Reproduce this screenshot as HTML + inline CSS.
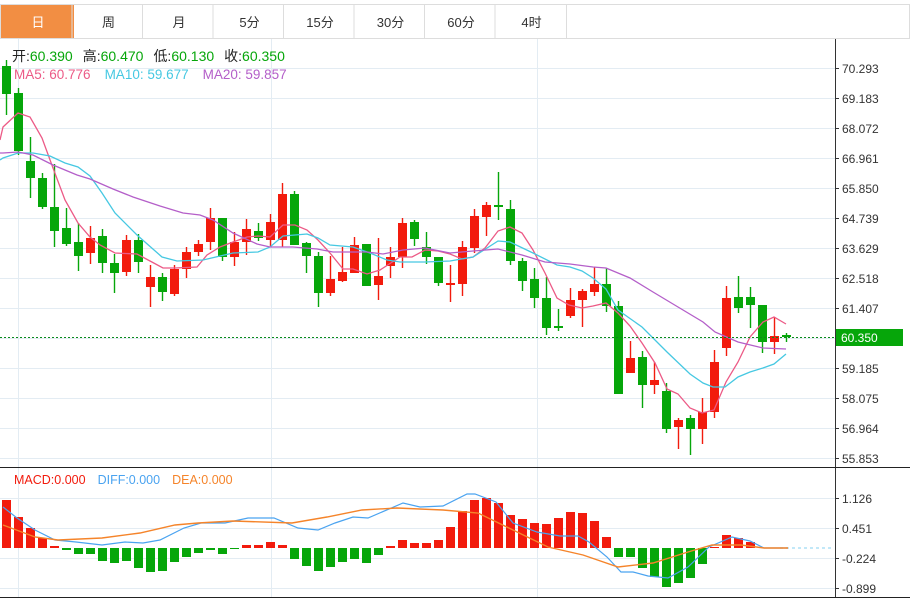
<!DOCTYPE html>
<html><head><meta charset="utf-8"><style>
body{margin:0;background:#fff;width:910px;height:599px;overflow:hidden;font-family:"Liberation Sans","Noto Sans CJK SC",sans-serif}
svg{position:absolute;left:0;top:0}
</style></head><body>
<svg id="s" width="910" height="599" xmlns="http://www.w3.org/2000/svg" font-family="Liberation Sans, Noto Sans CJK SC, sans-serif"></svg>
<script>
var s=document.getElementById('s'),h='';
h+='<rect x="0.5" y="4.5" width="909" height="34" fill="#fff" stroke="#ddd"/>';
h+='<rect x="1" y="5" width="73" height="33" fill="#f28e43"/>';
var tabs=['日','周','月','5分','15分','30分','60分','4时'];
for(var i=0;i<8;i++){var x=1+i*70.5;if(i>0)h+='<line x1="'+(x+0.5)+'" y1="5" x2="'+(x+0.5)+'" y2="38" stroke="#ddd"/>';
h+='<text x="'+(x+37)+'" y="27" font-size="13" text-anchor="middle" fill="'+(i==0?'#fff':'#333')+'">'+tabs[i]+'</text>';}
h+='<line x1="566.5" y1="5" x2="566.5" y2="38" stroke="#ddd"/>';
[68,98,128,158,188,218,248,278,308,338,368,398,428,458].forEach(function(y){h+='<line x1="0" y1="'+(y+.5)+'" x2="835" y2="'+(y+.5)+'" stroke="#e3ecf3"/>';});
[18,271,537].forEach(function(x){h+='<line x1="'+(x+.5)+'" y1="39" x2="'+(x+.5)+'" y2="597" stroke="#e3ecf3"/>';});
[498,528,558,588].forEach(function(y){h+='<line x1="0" y1="'+(y+.5)+'" x2="835" y2="'+(y+.5)+'" stroke="#e3ecf3"/>';});
h+='<line x1="835.5" y1="39" x2="835.5" y2="597" stroke="#333"/>';
h+='<line x1="0" y1="467.5" x2="910" y2="467.5" stroke="#222"/>';
h+='<line x1="0" y1="597.5" x2="910" y2="597.5" stroke="#222"/>';
var pl=['70.293','69.183','68.072','66.961','65.850','64.739','63.629','62.518','61.407','60.296','59.185','58.075','56.964','55.853'];
pl.forEach(function(t,k){var y=68+k*30;if(k!=9){h+='<line x1="835" y1="'+(y+.5)+'" x2="839" y2="'+(y+.5)+'" stroke="#333"/><text x="842" y="'+(y+5)+'" font-size="12" fill="#333">'+t+'</text>';}});
['1.126','0.451','-0.224','-0.899'].forEach(function(t,k){var y=498+k*30;h+='<line x1="835" y1="'+(y+.5)+'" x2="839" y2="'+(y+.5)+'" stroke="#333"/><text x="842" y="'+(y+5)+'" font-size="12" fill="#333">'+t+'</text>';});
var C=[['g',66,94,60,115],['g',93,151,88,155],['g',161,178,137,198],['g',178,207,173,209],['g',207,231,164,247],['g',228,244,208,246],['g',242,256,223,271],['r',238,253,226,264],['g',236,263,229,273],['g',263,273,254,293],
['r',240,272,235,276],['g',240,262,234,273],['r',277,287,265,307],['g',277,292,273,301],['r',269,294,265,296],['r',252,269,247,278],['r',244,252,240,256],['r',218,242,208,250],['g',218,257,218,261],['r',242,257,232,266],
['r',229,242,219,255],['g',231,238,223,241],['r',222,240,214,246],['r',194,240,183,247],['g',194,245,191,245],['g',243,256,242,273],['g',256,293,252,307],['r',279,293,256,296],['r',272,281,247,282],['r',245,273,237,273],
['g',244,286,244,286],['r',276,285,238,300],['r',257,266,247,278],['r',223,257,218,268],['g',222,239,220,246],['g',247,257,232,264],['g',257,283,257,286],['r',283,285,265,302],['r',247,284,241,296],['r',216,248,209,253],
['r',205,217,202,236],['g',205,207,172,220],['g',209,261,200,265],['g',261,281,258,291],['g',279,298,268,308],['g',298,328,277,335],['g',326,328,309,331],['r',300,316,288,318],['r',291,300,289,327],['r',284,292,267,296],
['g',284,306,268,312],['g',306,394,301,394],['r',358,373,341,373],['g',357,385,351,408],['r',380,385,362,394],['g',391,429,383,433],['r',420,427,418,449],['g',418,429,415,455],['r',412,429,398,444],['r',362,412,350,418],
['r',298,348,286,356],['g',297,308,276,313],['g',297,305,287,328],['g',305,342,305,353],['r',336,342,317,354],['g',335,337,333,342]];
C.forEach(function(c,i){var x=6+12*i,col=c[0]=='r'?'#f21b0d':'#06a60a';
h+='<line x1="'+(x+.5)+'" y1="'+c[3]+'" x2="'+(x+.5)+'" y2="'+c[4]+'" stroke="'+col+'" stroke-width="1.4"/>';
h+='<rect x="'+(x-4)+'" y="'+c[1]+'" width="9" height="'+Math.max(2,c[2]-c[1])+'" fill="'+col+'"/>';});
function pl2(p,col,w){return '<polyline fill="none" stroke="'+col+'" stroke-width="'+(w||1.3)+'" points="'+p+'"/>';}
h+=pl2('0,140 3,127 18,113 30,117 42,138 53,168 65,200 78,223 90,237 100,245 115,253 137,254 150,261 163,268 175,268 197,267 207,255 220,247 233,242 247,237 258,236 270,237 283,225 295,225 307,230 318,240 330,253 343,269 353,269 367,274 380,270 400,257 412,257 425,250 438,251 450,254 462,259 473,257 485,248 498,231 510,227 522,233 533,250 545,273 557,298 569,305 582,308 593,306 606,303 618,313 630,326 642,343 655,363 667,389 678,394 690,408 702,413 714,410 726,382 738,362 750,337 763,322 774,317 786,324','#ec5a86');
h+=pl2('0,160 3,158 18,153 33,153 50,156 65,163 78,167 90,176 102,193 115,213 137,235 162,257 177,261 203,260 233,253 258,252 270,247 283,236 307,234 318,238 330,245 353,247 370,253 387,260 400,262 425,262 450,261 473,257 498,241 510,242 533,253 557,265 570,267 582,271 593,278 606,289 618,310 642,327 667,352 690,374 703,383 713,387 725,387 738,377 750,372 763,368 774,364 786,354','#46c8e2');
h+=pl2('0,153 3,153 18,152 33,155 53,165 77,175 90,179 113,189 133,197 160,206 183,213 200,215 213,220 233,233 257,244 270,247 293,247 317,249 333,252 367,252 383,254 403,250 425,248 450,253 473,251 498,249 522,255 545,262 570,264 593,267 606,268 630,278 653,292 678,307 703,322 715,332 738,342 763,348 786,349','#b45fc9');
h+='<line x1="0" y1="337.5" x2="835" y2="337.5" stroke="#0a8a1a" stroke-dasharray="2,2"/>';
h+='<rect x="836" y="329" width="67" height="17" fill="#06a60a"/><text x="841" y="342" font-size="12" fill="#fff">60.350</text>';
h+='<text x="12" y="61" font-size="14"><tspan fill="#222">开:</tspan><tspan fill="#06a60a">60.390</tspan><tspan fill="#222" dx="10">高:</tspan><tspan fill="#06a60a">60.470</tspan><tspan fill="#222" dx="10">低:</tspan><tspan fill="#06a60a">60.130</tspan><tspan fill="#222" dx="10">收:</tspan><tspan fill="#06a60a">60.350</tspan></text>';
h+='<text x="14" y="79" font-size="13.5"><tspan fill="#ec5a86">MA5: 60.776</tspan><tspan fill="#46c8e2" dx="14">MA10: 59.677</tspan><tspan fill="#b45fc9" dx="14">MA20: 59.857</tspan></text>';
h+='<text x="14" y="484" font-size="12.5"><tspan fill="#f21b0d">MACD:0.000</tspan><tspan fill="#4aa3f0" dx="12">DIFF:0.000</tspan><tspan fill="#f5842a" dx="12">DEA:0.000</tspan></text>';
var M=[500,517,528,538,546,550,554,554,561,563,561,568,572,571,562,557,553,550,554,549,545,545,542,545,559,566,571,567,562,559,563,555,546,540,543,543,540,527,511,500,498,503,515,519,523,524,518,512,513,521,537,557,557,568,577,587,583,578,564,547,535,538,542];
M.forEach(function(y,i){var x=6+12*i,col=y<548?'#f21b0d':'#06a60a',t=Math.min(y,548),hh=Math.max(1,Math.abs(y-548));
h+='<rect x="'+(x-4)+'" y="'+t+'" width="9" height="'+hh+'" fill="'+col+'"/>';});
h+='<line x1="780" y1="548" x2="833" y2="548" stroke="#aee0f5" stroke-width="1.5" stroke-dasharray="3,3"/>';
h+=pl2('3,507 17,518 35,530 55,540 76,542 102,545 125,542 143,543 160,540 184,528 201,523 225,523 248,518 274,518 298,528 318,530 335,523 353,517 368,518 403,503 420,507 443,506 467,494 475,494 496,502 513,523 537,532 560,536 578,536 589,542 607,557 621,572 633,572 648,576 668,578 688,567 709,547 732,537 750,541 764,548 788,548','#4aa3f0',1.2);
h+=pl2('3,525 35,537 58,540 102,538 140,533 175,525 198,523 233,521 292,523 327,517 362,510 397,508 443,510 478,513 513,530 548,547 583,555 618,567 653,563 688,552 712,545 741,545 764,548 788,548','#f5842a',1.4);
s.innerHTML=h;
</script>
</body></html>
